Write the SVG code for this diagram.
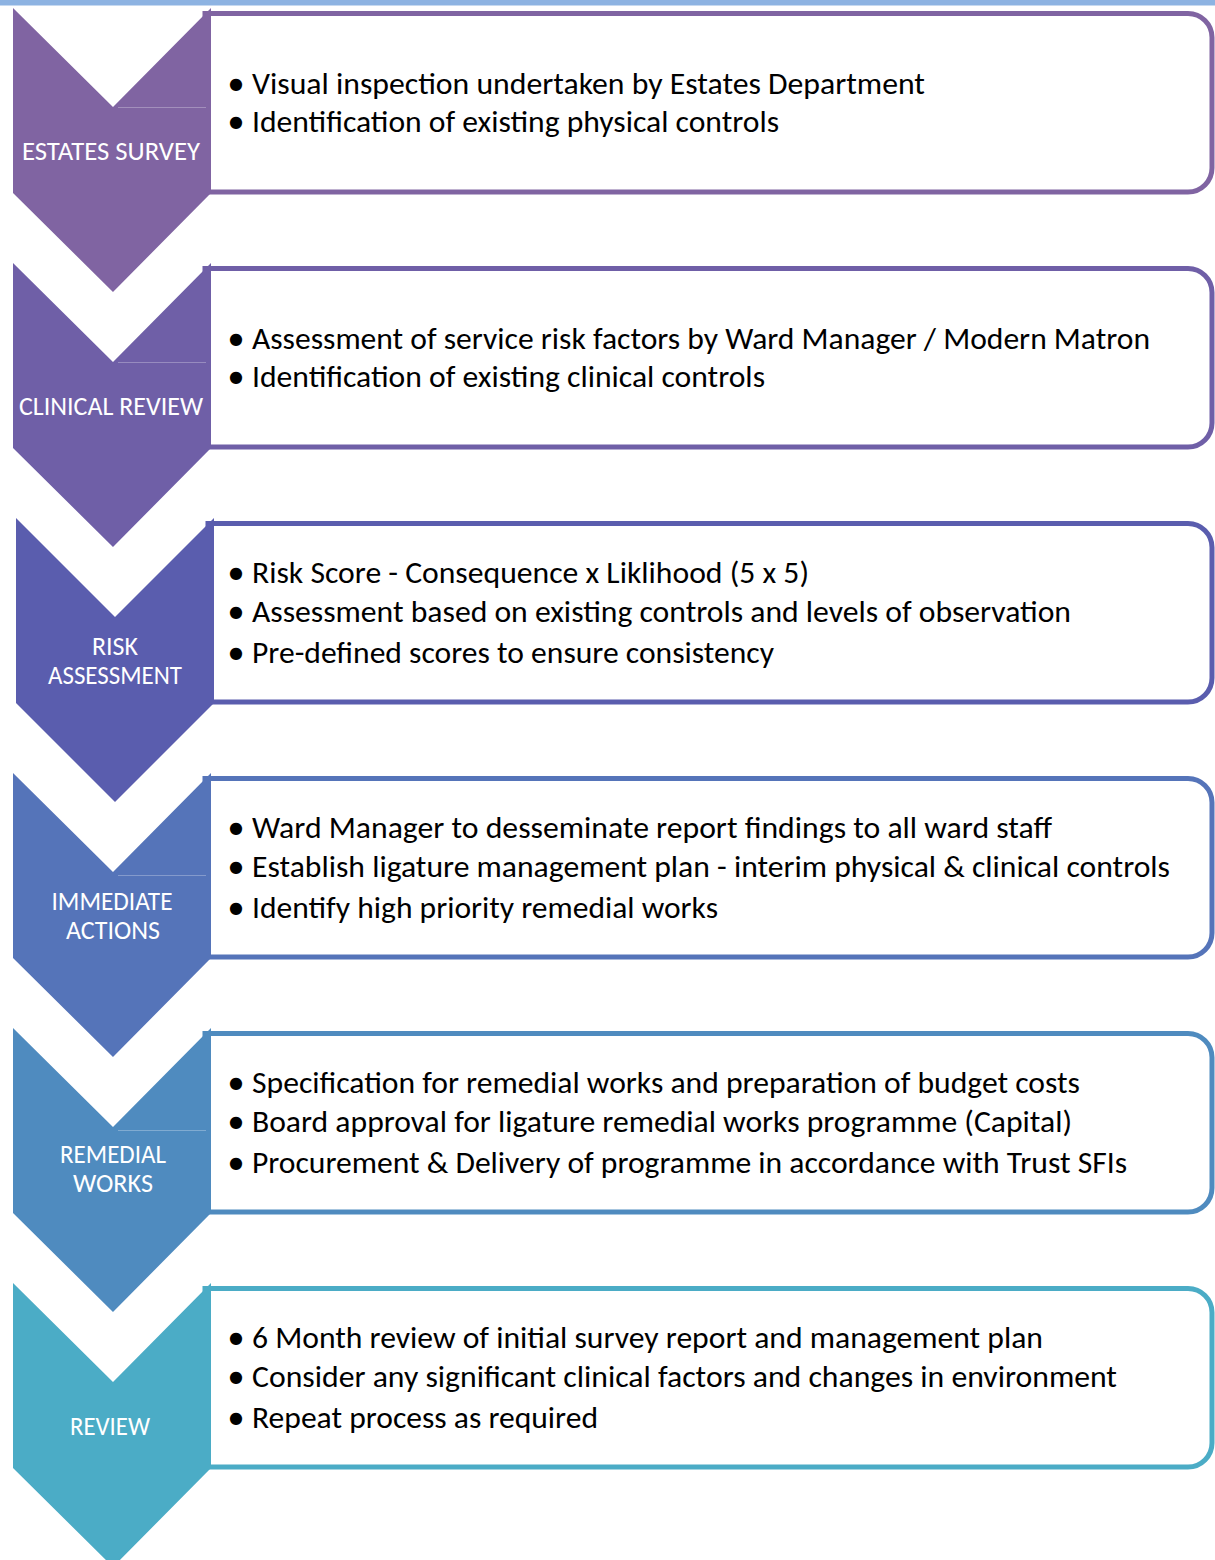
<svg xmlns="http://www.w3.org/2000/svg" width="1215" height="1560" viewBox="0 0 1215 1560">
  <style>
    .box { fill: #ffffff; stroke-width: 5; }
    .chev { stroke: none; }
    .seam { stroke: #ffffff; stroke-opacity: 0.28; stroke-width: 1; fill: none; }
    .lbl { font-family: Carlito, Lato, "Liberation Sans", sans-serif; font-size: 26px; fill: #ffffff; text-anchor: middle; }
    .item { font-family: Carlito, Lato, "Liberation Sans", sans-serif; font-size: 31px; fill: #000000; }
    .dot { font-family: "DejaVu Sans", sans-serif; font-size: 16px; fill: #000000; }
  </style>

  <!-- page header rule -->
  <rect x="0" y="0" width="1215" height="5.5" fill="#8DB3E2"/>

  <!-- Step 1: Estates survey -->
  <g id="step-estates-survey">
    <path class="box" stroke="#8064A2" d="M205 13.5 H1188 A24 24 0 0 1 1212 37.5 V168 A24 24 0 0 1 1188 192 H205 Z"/>
    <path class="chev" fill="#8064A2" d="M13 8 L113 107 L211 8 V193 L113 292 L13 193 Z"/>
    <path class="seam" d="M118 107.5 H206"/>
    <text class="lbl" x="111" y="160" textLength="178" lengthAdjust="spacingAndGlyphs">ESTATES SURVEY</text>
    <text class="dot" x="229" y="89">●</text>
    <text class="item" x="252" y="94" textLength="673" lengthAdjust="spacingAndGlyphs">Visual inspection undertaken by Estates Department</text>
    <text class="dot" x="229" y="127">●</text>
    <text class="item" x="252" y="132" textLength="527" lengthAdjust="spacingAndGlyphs">Identification of existing physical controls</text>
  </g>

  <!-- Step 2: Clinical review -->
  <g id="step-clinical-review">
    <path class="box" stroke="#6F5FA7" d="M205 268.5 H1188 A24 24 0 0 1 1212 292.5 V423 A24 24 0 0 1 1188 447 H205 Z"/>
    <path class="chev" fill="#6F5FA7" d="M13 263 L113 362 L211 263 V448 L113 547 L13 448 Z"/>
    <path class="seam" d="M118 362.5 H206"/>
    <text class="lbl" x="111" y="415" textLength="184" lengthAdjust="spacingAndGlyphs">CLINICAL REVIEW</text>
    <text class="dot" x="229" y="344">●</text>
    <text class="item" x="252" y="349" textLength="898" lengthAdjust="spacingAndGlyphs">Assessment of service risk factors by Ward Manager / Modern Matron</text>
    <text class="dot" x="229" y="382">●</text>
    <text class="item" x="252" y="387" textLength="513" lengthAdjust="spacingAndGlyphs">Identification of existing clinical controls</text>
  </g>

  <!-- Step 3: Risk assessment -->
  <g id="step-risk-assessment">
    <path class="box" stroke="#5A5DAE" d="M208 523.5 H1188 A24 24 0 0 1 1212 547.5 V678 A24 24 0 0 1 1188 702 H208 Z"/>
    <path class="chev" fill="#5A5DAE" d="M16 518 L115 617 L214 518 V703 L115 802 L16 703 Z"/>
    <text class="lbl" x="115" y="655" textLength="46" lengthAdjust="spacingAndGlyphs">RISK</text>
    <text class="lbl" x="115" y="684" textLength="134" lengthAdjust="spacingAndGlyphs">ASSESSMENT</text>
    <text class="dot" x="229" y="578">●</text>
    <text class="item" x="252" y="583" textLength="557" lengthAdjust="spacingAndGlyphs">Risk Score - Consequence x Liklihood (5 x 5)</text>
    <text class="dot" x="229" y="617">●</text>
    <text class="item" x="252" y="622" textLength="819" lengthAdjust="spacingAndGlyphs">Assessment based on existing controls and levels of observation</text>
    <text class="dot" x="229" y="658">●</text>
    <text class="item" x="252" y="663" textLength="522" lengthAdjust="spacingAndGlyphs">Pre-defined scores to ensure consistency</text>
  </g>

  <!-- Step 4: Immediate actions -->
  <g id="step-immediate-actions">
    <path class="box" stroke="#5574B9" d="M205 778.5 H1188 A24 24 0 0 1 1212 802.5 V933 A24 24 0 0 1 1188 957 H205 Z"/>
    <path class="chev" fill="#5574B9" d="M13 773 L113 872 L211 773 V958 L113 1057 L13 958 Z"/>
    <path class="seam" d="M118 875.5 H206"/>
    <text class="lbl" x="112" y="910" textLength="121" lengthAdjust="spacingAndGlyphs">IMMEDIATE</text>
    <text class="lbl" x="113" y="939" textLength="94" lengthAdjust="spacingAndGlyphs">ACTIONS</text>
    <text class="dot" x="229" y="833">●</text>
    <text class="item" x="252" y="838" textLength="800" lengthAdjust="spacingAndGlyphs">Ward Manager to desseminate report findings to all ward staff</text>
    <text class="dot" x="229" y="872">●</text>
    <text class="item" x="252" y="877" textLength="918" lengthAdjust="spacingAndGlyphs">Establish ligature management plan - interim physical &amp; clinical controls</text>
    <text class="dot" x="229" y="913">●</text>
    <text class="item" x="252" y="918" textLength="466" lengthAdjust="spacingAndGlyphs">Identify high priority remedial works</text>
  </g>

  <!-- Step 5: Remedial works -->
  <g id="step-remedial-works">
    <path class="box" stroke="#4F8BBF" d="M205 1033.5 H1188 A24 24 0 0 1 1212 1057.5 V1188 A24 24 0 0 1 1188 1212 H205 Z"/>
    <path class="chev" fill="#4F8BBF" d="M13 1028 L113 1127 L211 1028 V1213 L113 1312 L13 1213 Z"/>
    <path class="seam" d="M118 1130.5 H206"/>
    <text class="lbl" x="113" y="1163" textLength="106" lengthAdjust="spacingAndGlyphs">REMEDIAL</text>
    <text class="lbl" x="113" y="1192" textLength="80" lengthAdjust="spacingAndGlyphs">WORKS</text>
    <text class="dot" x="229" y="1088">●</text>
    <text class="item" x="252" y="1093" textLength="828" lengthAdjust="spacingAndGlyphs">Specification for remedial works and preparation of budget costs</text>
    <text class="dot" x="229" y="1127">●</text>
    <text class="item" x="252" y="1132" textLength="820" lengthAdjust="spacingAndGlyphs">Board approval for ligature remedial works programme (Capital)</text>
    <text class="dot" x="229" y="1168">●</text>
    <text class="item" x="252" y="1173" textLength="875" lengthAdjust="spacingAndGlyphs">Procurement &amp; Delivery of programme in accordance with Trust SFIs</text>
  </g>

  <!-- Step 6: Review -->
  <g id="step-review">
    <path class="box" stroke="#4BACC6" d="M205 1288.5 H1188 A24 24 0 0 1 1212 1312.5 V1443 A24 24 0 0 1 1188 1467 H205 Z"/>
    <path class="chev" fill="#4BACC6" d="M13 1283 L113 1382 L211 1283 V1468 L113 1567 L13 1468 Z"/>
    <text class="lbl" x="110" y="1435" textLength="80" lengthAdjust="spacingAndGlyphs">REVIEW</text>
    <text class="dot" x="229" y="1343">●</text>
    <text class="item" x="252" y="1348" textLength="791" lengthAdjust="spacingAndGlyphs">6 Month review of initial survey report and management plan</text>
    <text class="dot" x="229" y="1382">●</text>
    <text class="item" x="252" y="1387" textLength="865" lengthAdjust="spacingAndGlyphs">Consider any significant clinical factors and changes in environment</text>
    <text class="dot" x="229" y="1423">●</text>
    <text class="item" x="252" y="1428" textLength="346" lengthAdjust="spacingAndGlyphs">Repeat process as required</text>
  </g>

  <!-- the flow runs through the chevrons themselves; no separate connectors -->
  <g id="connectors"/>
</svg>
